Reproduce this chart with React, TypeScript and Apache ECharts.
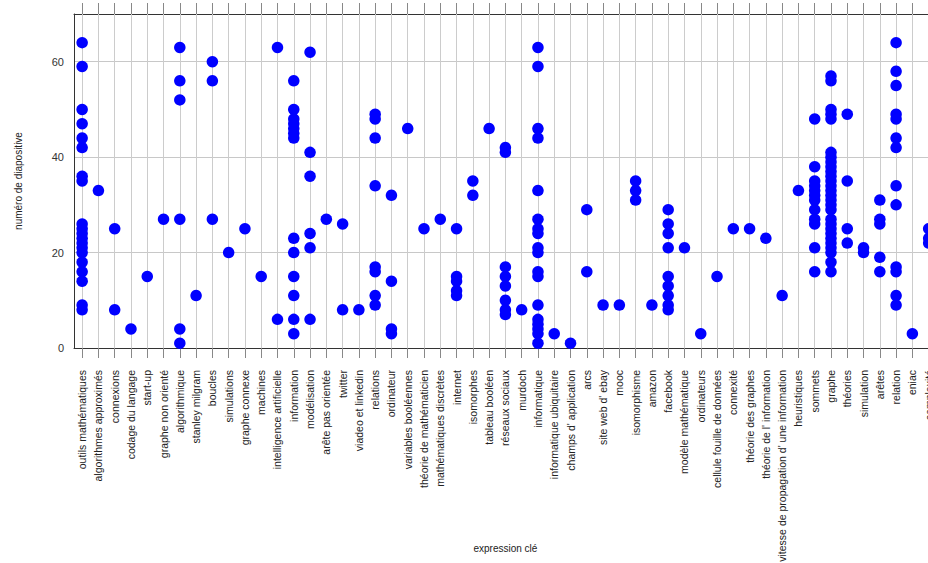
import React, { useEffect, useRef } from "react";
import * as echarts from "echarts";

const categories: string[] = [
  "outils mathématiques",
  "algorithmes approximés",
  "connexions",
  "codage du langage",
  "start-up",
  "graphe non orienté",
  "algorithmique",
  "stanley milgram",
  "boucles",
  "simulations",
  "graphe connexe",
  "machines",
  "intelligence artificielle",
  "information",
  "modélisation",
  "arête pas orientée",
  "twitter",
  "viadeo et linkedin",
  "relations",
  "ordinateur",
  "variables booléennes",
  "théorie de mathématicien",
  "mathématiques discrètes",
  "internet",
  "isomorphes",
  "tableau booléen",
  "réseaux sociaux",
  "murdoch",
  "informatique",
  "informatique ubiquitaire",
  "champs d' application",
  "arcs",
  "site web d' ebay",
  "mooc",
  "isomorphisme",
  "amazon",
  "facebook",
  "modèle mathématique",
  "ordinateurs",
  "cellule fouille de données",
  "connexité",
  "théorie des graphes",
  "théorie de l' information",
  "vitesse de propagation d' une information",
  "heuristiques",
  "sommets",
  "graphe",
  "théories",
  "simulation",
  "arêtes",
  "relation",
  "eniac",
  "complexité",
];

// slide numbers (y values) for each expression, same order as categories
const slideNumbers: number[][] = [
  [64, 59, 50, 47, 44, 42, 36, 35, 26, 25, 24, 23, 22, 21, 20, 18, 16, 14, 9, 8],
  [33],
  [25, 8],
  [4],
  [15],
  [27],
  [63, 56, 52, 27, 4, 1],
  [11],
  [60, 56, 27],
  [20],
  [25],
  [15],
  [63, 6],
  [56, 50, 48, 47, 46, 45, 44, 23, 20, 15, 11, 6, 3],
  [62, 41, 36, 24, 21, 6],
  [27],
  [26, 8],
  [8],
  [49, 48, 44, 34, 17, 16, 11, 9],
  [32, 14, 4, 3],
  [46],
  [25],
  [27],
  [25, 15, 14, 12, 11],
  [35, 32],
  [46],
  [42, 41, 17, 15, 13, 10, 8, 7],
  [8],
  [63, 59, 46, 44, 33, 27, 25, 24, 21, 20, 16, 15, 9, 6, 5, 4, 3, 1],
  [3],
  [1],
  [29, 16],
  [9],
  [9],
  [35, 33, 31],
  [9],
  [29, 26, 24, 21, 15, 13, 11, 9, 8],
  [21],
  [3],
  [15],
  [25],
  [25],
  [23],
  [11],
  [33],
  [48, 38, 35, 34, 33, 32, 31, 29, 27, 26, 21, 16],
  [57, 56, 50, 49, 48, 41, 40, 39, 38, 37, 36, 35, 34, 33, 32, 31, 30, 29, 27, 26, 25, 24, 23, 22, 21, 20, 18, 16],
  [49, 35, 25, 22],
  [21, 20],
  [31, 27, 26, 19, 16],
  [64, 58, 55, 49, 48, 44, 42, 34, 30, 17, 16, 11, 9],
  [3],
  [25, 23, 22],
];

const yMin = 0;
const yMax = 70;
const yInterval = 20;

const FONT = "'Liberation Sans', Arial, Helvetica, sans-serif";

export default function App() {
  const ref = useRef<HTMLDivElement>(null);

  useEffect(() => {
    if (!ref.current) return;
    const chart = echarts.init(ref.current, null, { renderer: "svg" });

    const points: [number, number][] = [];
    slideNumbers.forEach((vals, i) => {
      vals.forEach((v) => points.push([i, v]));
    });

    const plotTop = 14;
    const plotHeight = 334;

    chart.setOption({
      animation: false,
      backgroundColor: "#ffffff",
      grid: {
        left: 74,
        top: plotTop,
        width: 862.8,
        height: plotHeight,
        containLabel: false,
        outerBoundsMode: "none",
      },
      xAxis: [
        {
          type: "category",
          data: categories,
          position: "bottom",
          name: "expression clé",
          nameLocation: "middle",
          nameGap: 195,
          nameMoveOverlap: false,
          nameTextStyle: { fontFamily: FONT, fontSize: 10, color: "#222" },
          axisLine: { show: true, lineStyle: { color: "#333", width: 1 } },
          axisTick: {
            show: true,
            interval: 0,
            alignWithLabel: true,
            length: 10,
            lineStyle: { color: "#888" },
          },
          axisLabel: {
            interval: 0,
            rotate: 90,
            margin: 22,
            fontFamily: FONT,
            fontSize: 10.5,
            color: "#222",
          },
          splitLine: { show: false },
        },
        {
          type: "category",
          data: categories,
          position: "top",
          axisLine: { show: true, lineStyle: { color: "#333", width: 1 } },
          axisTick: {
            show: true,
            interval: 0,
            inside: true,
            alignWithLabel: true,
            length: plotHeight,
            lineStyle: { color: "#cccccc" },
          },
          axisLabel: { show: false, interval: 0 },
          splitLine: { show: false },
        },
        {
          type: "category",
          data: categories,
          position: "top",
          offset: 0,
          axisLine: { show: false },
          axisTick: {
            show: true,
            interval: 0,
            inside: false,
            alignWithLabel: true,
            length: 11,
            lineStyle: { color: "#888" },
          },
          axisLabel: { show: false, interval: 0 },
          splitLine: { show: false },
        },
      ],
      yAxis: {
        type: "value",
        min: yMin,
        max: yMax,
        interval: yInterval,
        name: "numéro de diapositive",
        nameLocation: "middle",
        nameRotate: 90,
        nameGap: 51,
        nameTextStyle: { fontFamily: FONT, fontSize: 10, color: "#222" },
        axisLine: { show: true, lineStyle: { color: "#333", width: 1 } },
        axisTick: { show: false },
        axisLabel: {
          margin: 10,
          fontFamily: FONT,
          fontSize: 11,
          color: "#333",
          showMaxLabel: false,
          formatter: (v: number) => (v % yInterval === 0 ? String(v) : ""),
        },
        splitLine: { show: true, lineStyle: { color: "#c8c8c8", width: 1 } },
      },
      series: [
        {
          type: "scatter",
          xAxisIndex: 0,
          yAxisIndex: 0,
          data: points,
          symbol: "circle",
          symbolSize: 11.5,
          itemStyle: { color: "#0000ff", opacity: 1 },
          z: 5,
        },
      ],
    });

    return () => {
      chart.dispose();
    };
  }, []);

  return (
    <div
      style={{
        position: "fixed",
        left: 0,
        top: 0,
        width: 928,
        height: 563,
        overflow: "hidden",
        background: "#fff",
      }}
    >
      <div ref={ref} style={{ width: 960, height: 563 }} />
    </div>
  );
}
